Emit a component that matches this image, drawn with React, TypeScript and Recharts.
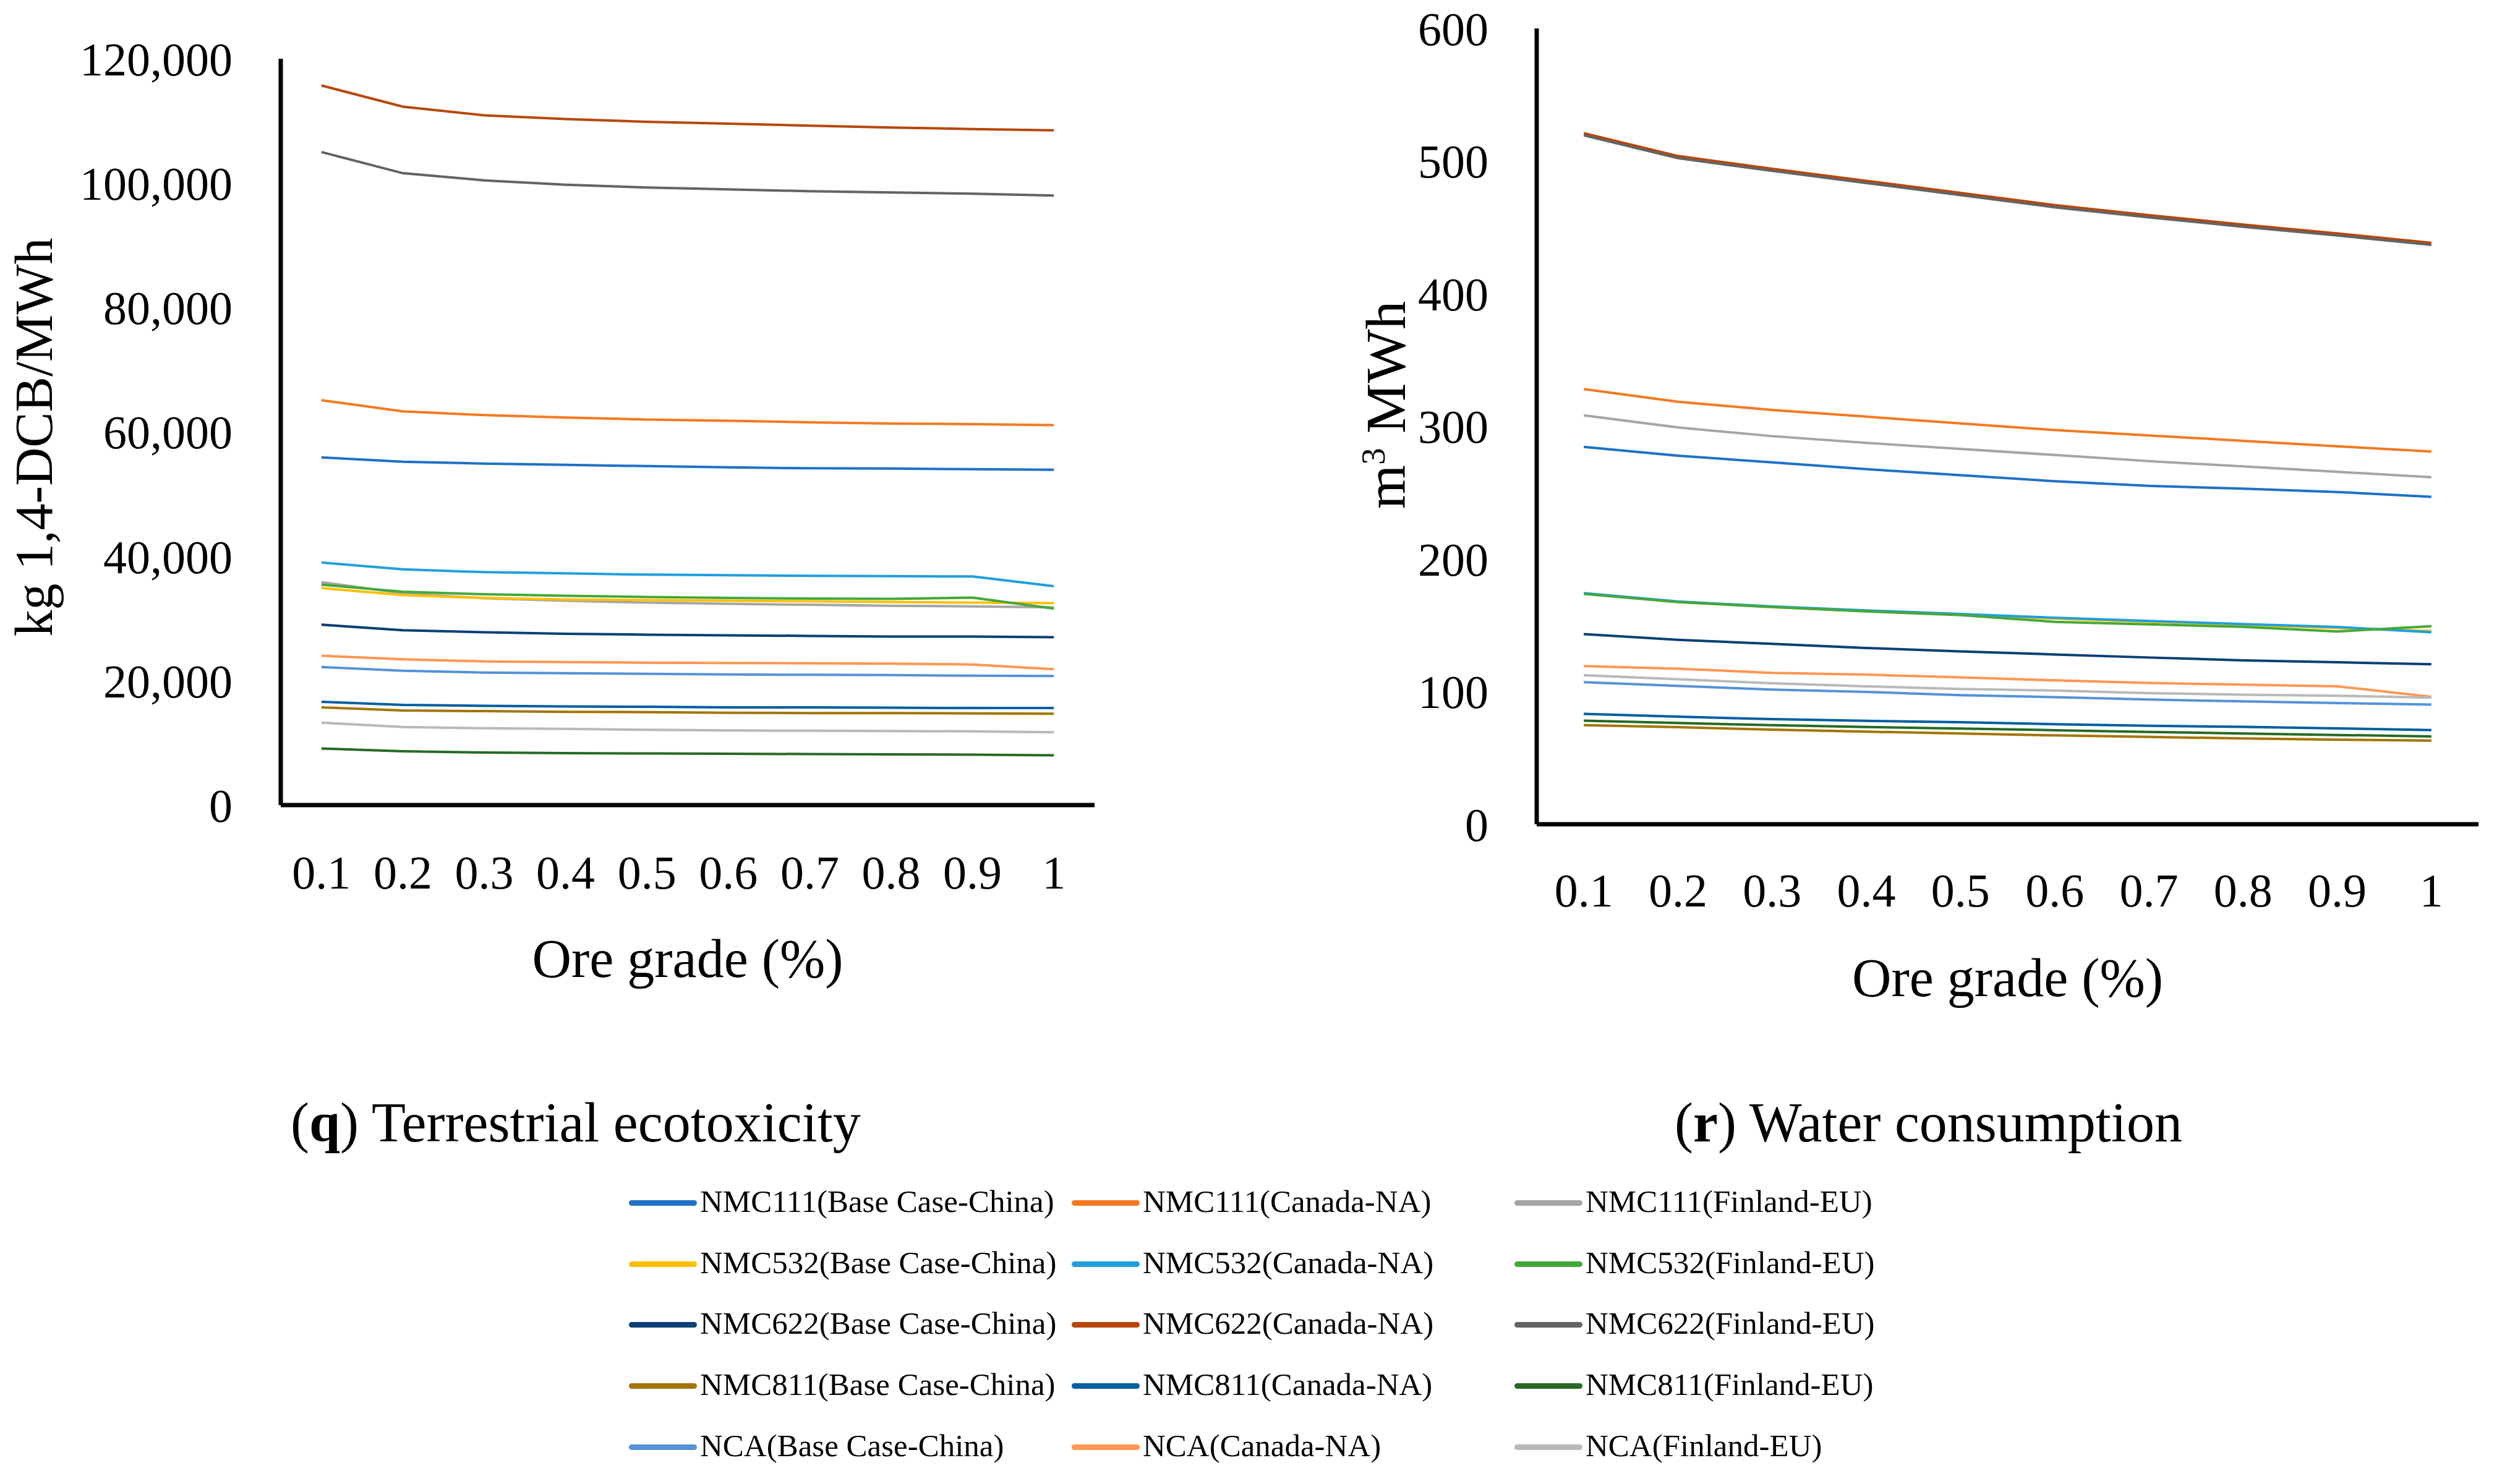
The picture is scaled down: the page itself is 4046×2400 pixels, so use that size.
import React from "react";
import { LineChart, Line, XAxis, YAxis, Label } from "recharts";

const oreGrades = ["0.1", "0.2", "0.3", "0.4", "0.5", "0.6", "0.7", "0.8", "0.9", "1"];

const seriesNames = [
  "NMC111(Base Case-China)", "NMC111(Canada-NA)", "NMC111(Finland-EU)",
  "NMC532(Base Case-China)", "NMC532(Canada-NA)", "NMC532(Finland-EU)",
  "NMC622(Base Case-China)", "NMC622(Canada-NA)", "NMC622(Finland-EU)",
  "NMC811(Base Case-China)", "NMC811(Canada-NA)", "NMC811(Finland-EU)",
  "NCA(Base Case-China)", "NCA(Canada-NA)", "NCA(Finland-EU)",
];

const seriesColors = [
  "#2070C4", "#F47A22", "#A5A5A5",
  "#FFC000", "#1F9FDD", "#45A83A",
  "#0B3F75", "#B7470B", "#636363",
  "#A27500", "#005F9E", "#276A25",
  "#5592D8", "#FF9651", "#B9B9B9",
];

// (q) Terrestrial ecotoxicity, kg 1,4-DCB/MWh
const terNMC111Base = [55900, 55200, 54900, 54700, 54500, 54300, 54150, 54100, 54000, 53900];
const terNMC111Can = [65100, 63300, 62700, 62300, 62000, 61800, 61550, 61350, 61250, 61100];
const terNMC111Fin = [35850, 34050, 33250, 32850, 32550, 32350, 32200, 32050, 31950, 31800];
const terNMC532Base = [34900, 33750, 33300, 33050, 32950, 32850, 32750, 32650, 32550, 32450];
const terNMC532Can = [39000, 37900, 37450, 37250, 37050, 36950, 36850, 36800, 36750, 35200];
const terNMC532Fin = [35450, 34300, 33900, 33650, 33450, 33300, 33200, 33150, 33350, 31600];
const terNMC622Base = [29000, 28100, 27800, 27550, 27400, 27300, 27200, 27100, 27100, 27000];
const terNMC622Can = [115700, 112300, 110900, 110300, 109850, 109550, 109250, 108950, 108700, 108500];
const terNMC622Fin = [105000, 101600, 100450, 99750, 99300, 99000, 98700, 98500, 98300, 98000];
const terNMC811Base = [15700, 15200, 15100, 15000, 14950, 14850, 14800, 14800, 14750, 14700];
const terNMC811Can = [16600, 16100, 15950, 15850, 15800, 15700, 15700, 15650, 15600, 15600];
const terNMC811Fin = [9100, 8650, 8450, 8350, 8300, 8250, 8200, 8150, 8100, 8000];
const terNCABase = [22200, 21600, 21300, 21200, 21100, 21000, 20950, 20900, 20800, 20750];
const terNCACan = [24000, 23450, 23100, 23000, 22900, 22850, 22800, 22750, 22600, 21850];
const terNCAFin = [13250, 12550, 12350, 12250, 12100, 12000, 11950, 11900, 11850, 11700];

// (r) Water consumption, m3/MWh
const watNMC111Base = [284.5, 277.9, 272.8, 267.7, 263.2, 258.6, 255.1, 253.0, 250.5, 246.9];
const watNMC111Can = [328.1, 318.5, 312.4, 307.3, 302.2, 297.2, 293.1, 289.1, 285.0, 281.0];
const watNMC111Fin = [308.3, 299.2, 292.6, 287.5, 283.0, 278.4, 273.8, 269.8, 265.7, 261.7];
const watNMC532Base = [173.9, 167.6, 163.8, 160.6, 158.0, 155.0, 152.6, 150.2, 147.9, 145.7];
const watNMC532Can = [174.2, 167.9, 164.2, 161.2, 158.5, 155.7, 153.3, 150.9, 148.7, 144.8];
const watNMC532Fin = [173.6, 167.5, 163.8, 160.5, 157.7, 152.6, 150.7, 148.8, 145.3, 149.3];
const watNMC622Base = [143.4, 139.1, 136.0, 132.9, 130.3, 128.0, 125.7, 123.6, 122.1, 120.6];
const watNMC622Can = [521.0, 503.8, 494.2, 485.1, 476.0, 466.8, 459.2, 452.1, 445.5, 438.4];
const watNMC622Fin = [519.4, 502.2, 492.6, 483.5, 474.4, 465.2, 457.6, 450.5, 443.9, 436.8];
const watNMC811Base = [74.7, 73.2, 71.3, 69.8, 68.4, 67.0, 65.8, 64.7, 63.8, 63.0];
const watNMC811Can = [83.2, 81.1, 79.2, 78.0, 76.9, 75.4, 74.3, 73.4, 72.3, 71.0];
const watNMC811Fin = [78.1, 76.3, 74.7, 73.3, 72.2, 70.9, 69.6, 68.4, 67.3, 66.2];
const watNCABase = [107.1, 104.3, 101.5, 99.8, 97.3, 95.8, 94.0, 92.6, 91.4, 90.2];
const watNCACan = [119.2, 117.3, 114.1, 112.8, 110.7, 108.5, 106.5, 105.3, 104.0, 96.1];
const watNCAFin = [112.4, 109.3, 106.3, 104.0, 102.0, 100.8, 98.8, 97.7, 96.9, 95.4];

const terTicks = [0, 20000, 40000, 60000, 80000, 100000, 120000];
const watTicks = [0, 100, 200, 300, 400, 500, 600];

const terSeries = [
  terNMC111Base, terNMC111Can, terNMC111Fin, terNMC532Base, terNMC532Can, terNMC532Fin,
  terNMC622Base, terNMC622Can, terNMC622Fin, terNMC811Base, terNMC811Can, terNMC811Fin,
  terNCABase, terNCACan, terNCAFin,
];
const watSeries = [
  watNMC111Base, watNMC111Can, watNMC111Fin, watNMC532Base, watNMC532Can, watNMC532Fin,
  watNMC622Base, watNMC622Can, watNMC622Fin, watNMC811Base, watNMC811Can, watNMC811Fin,
  watNCABase, watNCACan, watNCAFin,
];

const toRows = (series: number[][]) =>
  oreGrades.map((g, i) => {
    const row: Record<string, string | number> = { grade: g };
    seriesNames.forEach((n, s) => (row[n] = series[s][i]));
    return row;
  });

const FONT = "'Liberation Serif', 'Times New Roman', serif";
const tickStyle = { fill: "#000", fontSize: 76, fontFamily: FONT };

interface ImpactProps {
  rows: Record<string, string | number>[];
  ticks: number[];
  width: number;
  yAxisWidth: number;
  top: number;
  bottomAxis: number;
  right: number;
  xTickMargin: number;
  halfBand: number;
  yLabel: React.ReactNode;
}

function ImpactChart({ rows, ticks, width, yAxisWidth, top, bottomAxis, right, xTickMargin, halfBand, yLabel }: ImpactProps) {
  const height = 1700;
  return (
    <LineChart
      width={width}
      height={height}
      data={rows}
      margin={{ top, right, left: 0, bottom: 0 }}
      style={{ fontFamily: FONT }}
    >
      <XAxis
        dataKey="grade"
        height={height - bottomAxis}
        tick={tickStyle}
        tickLine={false}
        tickSize={0}
        tickMargin={xTickMargin}
        padding={{ left: halfBand, right: halfBand }}
        axisLine={{ stroke: "#000", strokeWidth: 7 }}
        interval={0}
      >
        <Label
          value="Ore grade (%)"
          position="insideTop"
          offset={216}
          style={{ fill: "#000", fontSize: 88, fontFamily: FONT }}
        />
      </XAxis>
      <YAxis
        width={yAxisWidth}
        domain={[ticks[0], ticks[ticks.length - 1]]}
        ticks={ticks}
        interval={0}
        tick={tickStyle}
        tickLine={false}
        tickSize={0}
        tickMargin={78}
        tickFormatter={(v: number) => v.toLocaleString("en-US")}
        axisLine={{ stroke: "#000", strokeWidth: 7 }}
        label={{ content: () => yLabel }}
      />
      {seriesNames.map((n, i) => (
        <Line
          key={n}
          type="linear"
          dataKey={n}
          stroke={seriesColors[i]}
          strokeWidth={4}
          dot={false}
          isAnimationActive={false}
        />
      ))}
    </LineChart>
  );
}

function LegendBlock() {
  const colX = [1017, 1733, 2449];
  const rowY = [1945, 2044, 2142, 2241, 2340];
  return (
    <>
      {seriesNames.map((n, i) => {
        const col = i % 3;
        const row = Math.floor(i / 3);
        return (
          <div
            key={n}
            style={{
              position: "absolute",
              left: colX[col],
              top: rowY[row] - 30,
              height: 60,
              display: "flex",
              alignItems: "center",
              fontFamily: FONT,
              fontSize: 51,
              lineHeight: "60px",
              whiteSpace: "nowrap",
              color: "#000",
            }}
          >
            <div style={{ width: 110, height: 9, borderRadius: 5, background: seriesColors[i], marginRight: 5 }} />
            <span style={{ position: "relative", top: -2 }}>{n}</span>
          </div>
        );
      })}
    </>
  );
}

const captionStyle: React.CSSProperties = {
  position: "absolute",
  top: 1766,
  fontFamily: FONT,
  fontSize: 90,
  lineHeight: "100px",
  whiteSpace: "nowrap",
  color: "#000",
};

export default function App() {
  const terRows = toRows(terSeries);
  const watRows = toRows(watSeries);

  const terLabel = (
    <text
      x={84}
      y={707}
      transform="rotate(-90, 84, 707)"
      textAnchor="middle"
      style={{ fontSize: 86, fontFamily: FONT, fill: "#000" }}
    >
      kg 1,4-DCB/MWh
    </text>
  );
  const watLabel = (
    <text
      x={172}
      y={655}
      transform="rotate(-90, 172, 655)"
      textAnchor="middle"
      style={{ fontSize: 92, fontFamily: FONT, fill: "#000" }}
    >
      m<tspan dy={-33} fontSize={55}>3</tspan>
      <tspan dy={33}> MWh</tspan>
    </text>
  );

  return (
    <div style={{ position: "absolute", left: 0, top: 0, width: 4046, height: 2400, background: "#fff" }}>
      <div style={{ position: "absolute", left: 0, top: 0 }}>
        <ImpactChart
          rows={terRows}
          ticks={terTicks}
          width={1800}
          yAxisWidth={454}
          top={95}
          bottomAxis={1302}
          right={30}
          xTickMargin={81}
          halfBand={65.8}
          yLabel={terLabel}
        />
      </div>
      <div style={{ position: "absolute", left: 2100, top: 0 }}>
        <ImpactChart
          rows={watRows}
          ticks={watTicks}
          width={1946}
          yAxisWidth={385}
          top={46}
          bottomAxis={1333}
          right={38}
          xTickMargin={79}
          halfBand={76.2}
          yLabel={watLabel}
        />
      </div>
      <div style={{ ...captionStyle, left: 470 }}>
        (<b>q</b>) Terrestrial ecotoxicity
      </div>
      <div style={{ ...captionStyle, left: 2708 }}>
        (<b>r</b>) Water consumption
      </div>
      <LegendBlock />
    </div>
  );
}
